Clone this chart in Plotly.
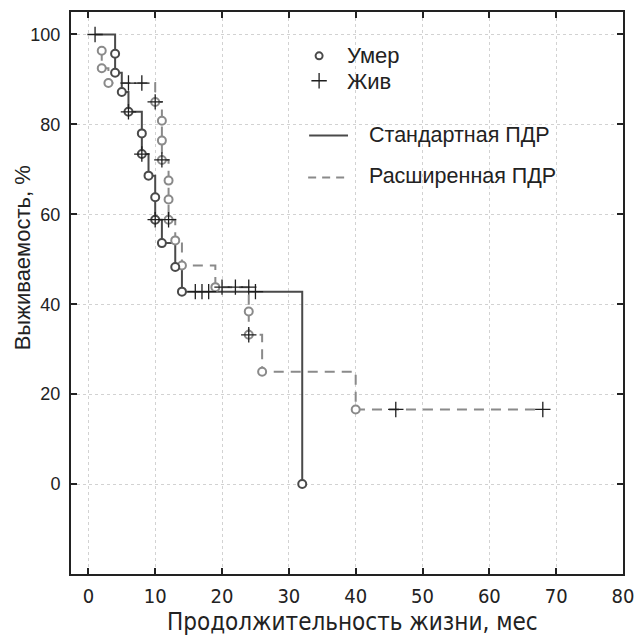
import plotly.graph_objects as go

# ---- data ----
# Standard PDR (solid) step curve
std_t = [1, 4, 5, 6, 8, 9, 10, 11, 13, 14, 32]
std_s = [100, 91.5, 87.2, 82.8, 73.4, 68.6, 58.8, 53.6, 48.3, 42.8, 0]
std_dead_t = [4, 4, 5, 6, 8, 8, 9, 10, 10, 11, 13, 14, 32]
std_dead_s = [95.7, 91.5, 87.2, 82.8, 78.0, 73.4, 68.6, 63.8, 58.8, 53.6, 48.3, 42.8, 0]
std_cens_t = [1, 6, 8, 10, 16, 17, 18, 25]
std_cens_s = [100, 82.8, 73.4, 58.8, 42.8, 42.8, 42.8, 42.8]

# Extended PDR (dashed) step curve
ext_t = [2, 2, 3, 10, 11, 12, 13, 14, 19, 24, 26, 40, 68]
ext_s = [96.4, 92.5, 89.2, 85.0, 72.1, 58.8, 54.2, 48.6, 43.8, 33.2, 25.0, 16.6, 16.6]
ext_dead_t = [2, 2, 3, 10, 11, 11, 11, 12, 12, 12, 13, 14, 19, 24, 24, 26, 40]
ext_dead_s = [96.4, 92.5, 89.2, 85.0, 80.8, 76.4, 72.1, 67.5, 63.3, 58.8, 54.2, 48.6, 43.8, 38.4, 33.2, 25.0, 16.6]
ext_cens_t = [6, 8, 10, 11, 12, 20, 22, 24, 24, 46, 68]
ext_cens_s = [89.2, 89.2, 85.0, 72.1, 58.8, 43.8, 43.8, 43.8, 33.2, 16.6, 16.6]

x_ticks = [0, 10, 20, 30, 40, 50, 60, 70, 80]
y_ticks = [0, 20, 40, 60, 80, 100]

legend_marks = ["Умер", "Жив"]
legend_lines = ["Стандартная ПДР", "Расширенная ПДР"]
x_title = "Продолжительность жизни, мес"
y_title = "Выживаемость, %"

DARK = "#4a4a4a"
GRAY = "#8a8a8a"
BLACK = "#1e1e1e"
FONT = "Liberation Sans, Arial, sans-serif"
NARROW = "Liberation Sans Narrow, DejaVu Sans Condensed, Arial Narrow, sans-serif"

fig = go.Figure()
fig.add_trace(go.Scatter(x=ext_t, y=ext_s, mode="lines", line_shape="hv",
                         line=dict(color=GRAY, width=2, dash="10px,7px"), showlegend=False))
fig.add_trace(go.Scatter(x=std_t, y=std_s, mode="lines", line_shape="hv",
                         line=dict(color=DARK, width=2), showlegend=False))
circle = dict(symbol="circle", size=8, color="white")
fig.add_trace(go.Scatter(x=ext_dead_t, y=ext_dead_s, mode="markers",
                         marker=dict(circle, line=dict(color=GRAY, width=2)), showlegend=False))
fig.add_trace(go.Scatter(x=std_dead_t, y=std_dead_s, mode="markers",
                         marker=dict(circle, line=dict(color=DARK, width=2)), showlegend=False))
cross = dict(symbol="cross-thin-open", size=11, color=BLACK, line=dict(color=BLACK, width=1.3))
fig.add_trace(go.Scatter(x=ext_cens_t, y=ext_cens_s, mode="markers", marker=cross, showlegend=False))
fig.add_trace(go.Scatter(x=std_cens_t, y=std_cens_s, mode="markers", marker=cross, showlegend=False))

# ---- page geometry (screen px; page body has an 8px margin) ----
OFF = 8
L, R, T, B = 71, 625, 10, 574
W, H = R - L, B - T
FIG = 644 - 2 * OFF
def px(x): return (x - L) / W
def py(y): return (B - y) / H

# ---- legend drawn in paper coordinates ----
fig.add_trace(go.Scatter(x=[px(320)], y=[py(54)], xaxis="x2", yaxis="y2", mode="markers",
                         marker=dict(circle, size=7, line=dict(color=DARK, width=2)), showlegend=False))
fig.add_trace(go.Scatter(x=[px(320)], y=[py(79)], xaxis="x2", yaxis="y2", mode="markers",
                         marker=dict(cross, size=11), showlegend=False))
fig.add_shape(type="line", xref="paper", yref="paper", x0=px(310), x1=px(349), y0=py(134), y1=py(134),
              line=dict(color=DARK, width=2))
fig.add_shape(type="line", xref="paper", yref="paper", x0=px(309), x1=px(349), y0=py(176), y1=py(176),
              line=dict(color=GRAY, width=2, dash="8px,6px"))
for txt, y in zip(legend_marks, [54, 80]):
    fig.add_annotation(text=txt, xref="paper", yref="paper", x=px(346), y=py(y), xanchor="left",
                       yanchor="middle", showarrow=False, font=dict(family=FONT, size=22, color="#222"))
for txt, y in zip(legend_lines, [133, 175]):
    fig.add_annotation(text=txt, xref="paper", yref="paper", x=px(368), y=py(y), xanchor="left",
                       yanchor="middle", showarrow=False, font=dict(family=FONT, size=21.5, color="#222"))

fig.add_annotation(text=x_title, xref="paper", yref="paper", x=px(354), y=py(622), xanchor="center",
                   yanchor="middle", showarrow=False, font=dict(family=NARROW, size=24, color="#222"))
fig.add_annotation(text=y_title, xref="paper", yref="paper", x=px(22), y=py(257), xanchor="center",
                   yanchor="middle", textangle=-90, showarrow=False, font=dict(family=FONT, size=22, color="#222"))

grid = dict(showgrid=True, gridcolor="#d2d2d2", gridwidth=1, griddash="3px,3px")
fig.update_layout(
    width=FIG, height=FIG,
    margin=dict(l=L - OFF, r=FIG - (R - OFF), t=T - OFF, b=FIG - (B - OFF)),
    plot_bgcolor="white", paper_bgcolor="white",
    xaxis=dict(range=[-2.6, 80], tickvals=x_ticks, ticks="inside", ticklen=6, tickwidth=2,
               tickcolor="#222", showline=True, linecolor="#222", linewidth=2, mirror="ticks",
               zeroline=False, tickfont=dict(family=NARROW, size=20, color="#222"),
               ticklabelstandoff=3, ticklabeloverflow="allow", **grid),
    yaxis=dict(range=[-20, 105], tickvals=y_ticks, ticks="inside", ticklen=6, tickwidth=2,
               tickcolor="#222", showline=True, linecolor="#222", linewidth=2, mirror="ticks",
               zeroline=False, tickfont=dict(family=FONT, size=18, color="#222"),
               ticklabelstandoff=5, **grid),
    xaxis2=dict(range=[0, 1], overlaying="x", visible=False, fixedrange=True),
    yaxis2=dict(range=[0, 1], overlaying="y", visible=False, fixedrange=True),
)
fig.write_html("out.html")
